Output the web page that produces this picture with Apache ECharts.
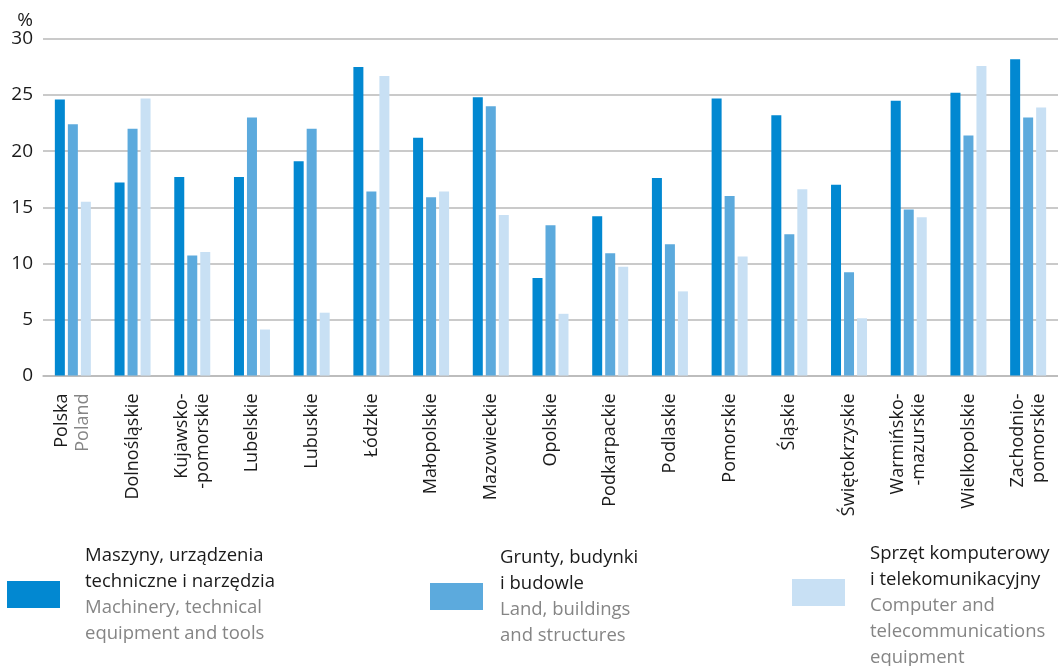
<!DOCTYPE html>
<html>
<head>
<meta charset="utf-8">
<script src="https://cdn.jsdelivr.net/npm/echarts@6/dist/echarts.min.js"></script>
<style>
html,body{margin:0;padding:0;background:#fff;}
#chart{width:1058px;height:666px;}
</style>
</head>
<body>
<div id="chart"></div>
<script>
const categories = ['Polska', 'Dolnośląskie', 'Kujawsko-\n-pomorskie', 'Lubelskie', 'Lubuskie', 'Łódzkie', 'Małopolskie', 'Mazowieckie', 'Opolskie', 'Podkarpackie', 'Podlaskie', 'Pomorskie', 'Śląskie', 'Świętokrzyskie', 'Warmińsko-\n-mazurskie', 'Wielkopolskie', 'Zachodnio-\npomorskie'];
const categoryEnglish = { 'Polska': 'Poland' };
const machinery = [24.6, 17.2, 17.7, 17.7, 19.1, 27.5, 21.2, 24.8, 8.7, 14.2, 17.6, 24.7, 23.2, 17.0, 24.5, 25.2, 28.2];
const land = [22.4, 22.0, 10.7, 23.0, 22.0, 16.4, 15.9, 24.0, 13.4, 10.9, 11.7, 16.0, 12.6, 9.2, 14.8, 21.4, 23.0];
const computer = [15.5, 24.7, 11.0, 4.1, 5.6, 26.7, 16.4, 14.3, 5.5, 9.7, 7.5, 10.6, 16.6, 5.1, 14.1, 27.6, 23.9];
const yTicks = [0, 5, 10, 15, 20, 25, 30];
const seriesNames = ['Maszyny, urządzenia techniczne i narzędzia', 'Grunty, budynki i budowle', 'Sprzęt komputerowy i telekomunikacyjny'];
const legendPl = [['Maszyny, urządzenia', 'techniczne i narzędzia'], ['Grunty, budynki', 'i budowle'], ['Sprzęt komputerowy', 'i telekomunikacyjny']];
const legendEn = [['Machinery, technical', 'equipment and tools'], ['Land, buildings', 'and structures'], ['Computer and', 'telecommunications', 'equipment']];
const colors = ['#0288d1', '#5caadd', '#c8e0f4'];

const FONT = '"Open Sans", sans-serif';
const chart = echarts.init(document.getElementById('chart'));

function legendFormatter(i) {
  const lines = [];
  if (legendPl[i].length + legendEn[i].length > 4) lines.push('{s| }');
  legendPl[i].forEach(t => lines.push('{a|' + t + '}'));
  legendEn[i].forEach(t => lines.push('{b|' + t + '}'));
  return lines.join('\n');
}
const legendLefts = [7, 430, 792];
const legendTops = [546, 548, 518];
const legendTextPad = [20, 12, 20];
const legends = seriesNames.map((n, i) => ({
  data: [n],
  left: legendLefts[i],
  top: legendTops[i],
  padding: 0,
  icon: 'rect',
  itemWidth: 53,
  itemHeight: 27,
  selectedMode: false,
  formatter: () => legendFormatter(i),
  textStyle: {
    fontFamily: FONT,
    padding: [0, 0, 0, legendTextPad[i]],
    rich: {
      a: { fontFamily: FONT, fontSize: 18.5, lineHeight: 26, color: '#1a1a1a' },
      b: { fontFamily: FONT, fontSize: 18.5, lineHeight: 26, color: '#858585' },
      s: { fontFamily: FONT, fontSize: 18.5, lineHeight: 26 }
    }
  }
}));

const option = {
  animation: false,
  color: colors,
  textStyle: { fontFamily: FONT },
  legend: legends,
  grid: { left: 43, right: 0, top: 39, bottom: 290.5, containLabel: false },
  xAxis: {
    type: 'category',
    data: categories,
    axisLine: { show: true, lineStyle: { color: '#b9b9b9', width: 1.5 } },
    axisTick: { show: false },
    axisLabel: {
      interval: 0,
      rotate: 90,
      margin: 18,
      fontFamily: FONT,
      formatter: function (v) {
        let out = v.split('\n').map(t => '{a|' + t + '}').join('\n');
        if (categoryEnglish[v]) out += '\n{b|' + categoryEnglish[v] + '}';
        return out;
      },
      rich: {
        a: { fontFamily: FONT, fontSize: 18, lineHeight: 21, color: '#1a1a1a' },
        b: { fontFamily: FONT, fontSize: 18, lineHeight: 21, color: '#858585' }
      }
    }
  },
  yAxis: {
    type: 'value',
    min: 0,
    max: 30,
    interval: 5,
    name: '%',
    nameLocation: 'end',
    nameGap: 9,
    nameTextStyle: { fontFamily: FONT, fontSize: 19, color: '#1a1a1a', align: 'right', padding: [0, 10, 0, 0] },
    axisLine: { show: false },
    axisTick: { show: false },
    axisLabel: {
      margin: 10,
      fontFamily: FONT,
      fontSize: 19,
      color: '#1a1a1a',
      formatter: v => yTicks.includes(v) ? String(v) : ''
    },
    splitLine: { show: true, lineStyle: { color: '#b9b9b9', width: 1.5 } }
  },
  series: [
    { name: seriesNames[0], type: 'bar', data: machinery, barWidth: 10, barGap: '30%' },
    { name: seriesNames[1], type: 'bar', data: land, barWidth: 10, barGap: '30%' },
    { name: seriesNames[2], type: 'bar', data: computer, barWidth: 10, barGap: '30%' }
  ]
};
chart.setOption(option);
</script>
</body>
</html>
